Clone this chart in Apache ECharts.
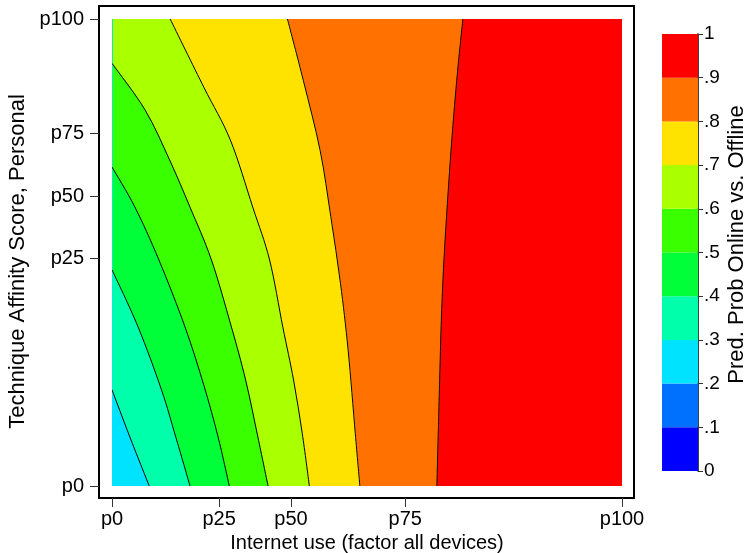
<!DOCTYPE html>
<html>
<head>
<meta charset="utf-8">
<script src="https://cdn.jsdelivr.net/npm/echarts@6/dist/echarts.min.js"></script>
<style>html,body{margin:0;padding:0;background:#fff}#c{width:756px;height:553px}</style>
</head>
<body>
<div id="c"></div>
<script>
// Axis tick positions (axis units 0..100) and labels
const xTickValues = [0, 21.0, 35.1, 57.5, 100];
const xTickLabels = ['p0', 'p25', 'p50', 'p75', 'p100'];
const yTickValues = [0, 48.8, 62.0, 75.5, 100];
const yTickLabels = ['p0', 'p25', 'p50', 'p75', 'p100'];

// Contour lines: [x, y] in axis units
const c03 = [[0, 20.6], [3.5, 10.5], [7.3, 0]];
const c04 = [[0, 46.3], [5.1, 34.1], [9.7, 20.6], [12.5, 10.5], [15.3, 0]];
const c05 = [[0, 68.3], [4.5, 59.7], [9.2, 48.4], [14.3, 34.1], [18.0, 21.6], [20.8, 10.5], [23.0, 0]];
const c06 = [[0, 90.5], [6.5, 80.5], [11.3, 69.8], [15.3, 59.7], [19.5, 48.4], [23.4, 34.1], [26.2, 22.7], [28.6, 10.5], [30.6, 0]];
const c07 = [[11.4, 100], [18.0, 85.4], [23.2, 74.1], [27.6, 59.7], [30.9, 48.4], [33.5, 34.0], [35.6, 22.7], [37.3, 11.3], [38.7, 0]];
const c08 = [[34.4, 100], [37.5, 86.9], [40.8, 71.9], [42.9, 57.7], [44.8, 43.4], [46.3, 29.1], [47.7, 11.3], [48.6, 0]];
const c09 = [[68.8, 100], [67.6, 86.9], [66.4, 70.7], [65.2, 50.5], [64.6, 36.2], [64.2, 20.6], [63.7, 0]];
const contourLines = [c03, c04, c05, c06, c07, c08, c09];

// Colour scale levels and band colours
const cbLevels = [0, 0.1, 0.2, 0.3, 0.4, 0.5, 0.6, 0.7, 0.8, 0.9, 1];
const cbTickLabels = ['0', '.1', '.2', '.3', '.4', '.5', '.6', '.7', '.8', '.9', '1'];
const bandColors = ['#0000FF', '#0071FF', '#00E3FF', '#00FFAA', '#00FF39', '#39FF00', '#AAFF00', '#FFE300', '#FF7100', '#FF0000'];

const FONT = '"Liberation Sans", Arial, Helvetica, sans-serif';

// Fill layers painted back-to-front: whole plot in top band, then area left of each line
const fills = [{ line: null, color: bandColors[9] }];
for (let k = contourLines.length - 1; k >= 0; k--) {
  fills.push({ line: contourLines[k], color: bandColors[k + 2] });
}

function pick(values, labels) {
  return function (v) {
    for (let i = 0; i < values.length; i++) if (Math.abs(values[i] - v) < 1e-6) return labels[i];
    return '';
  };
}

// smooth curve (Catmull-Rom as cubic Bezier) through pixel points
function curvePath(p) {
  let d = 'M' + p[0][0] + ' ' + p[0][1];
  for (let i = 0; i < p.length - 1; i++) {
    const a = p[i - 1] || p[i], b = p[i], c = p[i + 1], e = p[i + 2] || p[i + 1];
    const c1 = [b[0] + (c[0] - a[0]) / 6, b[1] + (c[1] - a[1]) / 6];
    const c2 = [c[0] - (e[0] - b[0]) / 6, c[1] - (e[1] - b[1]) / 6];
    d += ' C' + c1[0] + ' ' + c1[1] + ' ' + c2[0] + ' ' + c2[1] + ' ' + c[0] + ' ' + c[1];
  }
  return d;
}

const series = [{
  type: 'custom',
  xAxisIndex: 0, yAxisIndex: 0,
  silent: true, clip: true, z: 1,
  data: fills.map((f, i) => [i]),
  renderItem: function (params, api) {
    const f = fills[api.value(0)];
    const bl = api.coord([0, 0]), tl = api.coord([0, 100]), br = api.coord([100, 0]), tr = api.coord([100, 100]);
    let d;
    if (!f.line) {
      d = 'M' + bl[0] + ' ' + bl[1] + ' L' + br[0] + ' ' + br[1] + ' L' + tr[0] + ' ' + tr[1] + ' L' + tl[0] + ' ' + tl[1] + ' Z';
    } else {
      const pts = f.line.map(p => api.coord(p));
      d = curvePath(pts) + ' L' + bl[0] + ' ' + bl[1] + ' L' + tl[0] + ' ' + tl[1] + ' Z';
    }
    return {
      type: 'path',
      shape: { pathData: d },
      style: { fill: f.color, stroke: f.color, lineWidth: 0.6 }
    };
  }
}, {
  type: 'custom',
  xAxisIndex: 0, yAxisIndex: 0,
  silent: true, clip: true, z: 3,
  data: contourLines.map((l, i) => [i]),
  renderItem: function (params, api) {
    const pts = contourLines[api.value(0)].map(p => api.coord(p));
    return {
      type: 'path',
      shape: { pathData: curvePath(pts) },
      style: { fill: 'none', stroke: '#000', lineWidth: 1 }
    };
  }
}];
bandColors.forEach(function (col, i) {
  series.push({
    type: 'bar', xAxisIndex: 1, yAxisIndex: 1, stack: 'cb',
    data: [cbLevels[i + 1] - cbLevels[i]], barWidth: '100%', silent: true,
    itemStyle: { color: col }
  });
});

const chart = echarts.init(document.getElementById('c'), null, { renderer: 'canvas' });
chart.setOption({
  animation: false,
  backgroundColor: '#fff',
  textStyle: { fontFamily: FONT },
  grid: [
    { left: 112, top: 19, width: 510, height: 467, outerBoundsMode: 'none', containLabel: false },
    { left: 662, top: 34, width: 36, height: 437, outerBoundsMode: 'none', containLabel: false }
  ],
  graphic: [{
    type: 'rect', silent: true, z: 0,
    shape: { x: 99, y: 6, width: 535, height: 492 },
    style: { fill: 'none', stroke: '#000', lineWidth: 2 }
  }],
  xAxis: [{
    gridIndex: 0, type: 'value', min: 0, max: 100, offset: 12,
    splitLine: { show: false },
    axisLine: { show: true, onZero: false, lineStyle: { color: '#000', width: 2 } },
    axisTick: { show: true, length: 9, customValues: xTickValues, lineStyle: { color: '#333', width: 1 } },
    axisLabel: { customValues: xTickValues, formatter: pick(xTickValues, xTickLabels), margin: 11, fontSize: 20, color: '#000', fontFamily: FONT },
    name: 'Internet use (factor all devices)', nameLocation: 'middle', nameGap: 31,
    nameTextStyle: { fontSize: 20, color: '#000', fontFamily: FONT }
  }, {
    gridIndex: 1, type: 'category', data: ['cb'], show: false
  }],
  yAxis: [{
    gridIndex: 0, type: 'value', min: 0, max: 100, offset: 13,
    splitLine: { show: false },
    axisLine: { show: true, onZero: false, lineStyle: { color: '#000', width: 2 } },
    axisTick: { show: true, length: 9, customValues: yTickValues, lineStyle: { color: '#333', width: 1 } },
    axisLabel: { customValues: yTickValues, formatter: pick(yTickValues, yTickLabels), margin: 15, fontSize: 20, color: '#000', fontFamily: FONT },
    name: 'Technique Affinity Score, Personal', nameLocation: 'middle', nameGap: 70,
    nameTextStyle: { fontSize: 22, color: '#000', fontFamily: FONT, padding: [0, 18, 0, 0] }
  }, {
    gridIndex: 1, type: 'value', min: 0, max: 1, interval: 0.1, position: 'right',
    splitLine: { show: false },
    axisLine: { show: true, lineStyle: { color: '#000', width: 1.5 } },
    axisTick: { show: true, length: 5, lineStyle: { color: '#333', width: 1 } },
    axisLabel: { formatter: pick(cbLevels, cbTickLabels), margin: 6, fontSize: 19, color: '#000', fontFamily: FONT },
    name: 'Pred. Prob Online vs. Offline', nameLocation: 'middle', nameRotate: 90, nameGap: 28,
    nameTextStyle: { fontSize: 22, color: '#000', fontFamily: FONT, padding: [0, 0, 0, 16] }
  }],
  series: series
});
</script>
</body>
</html>
